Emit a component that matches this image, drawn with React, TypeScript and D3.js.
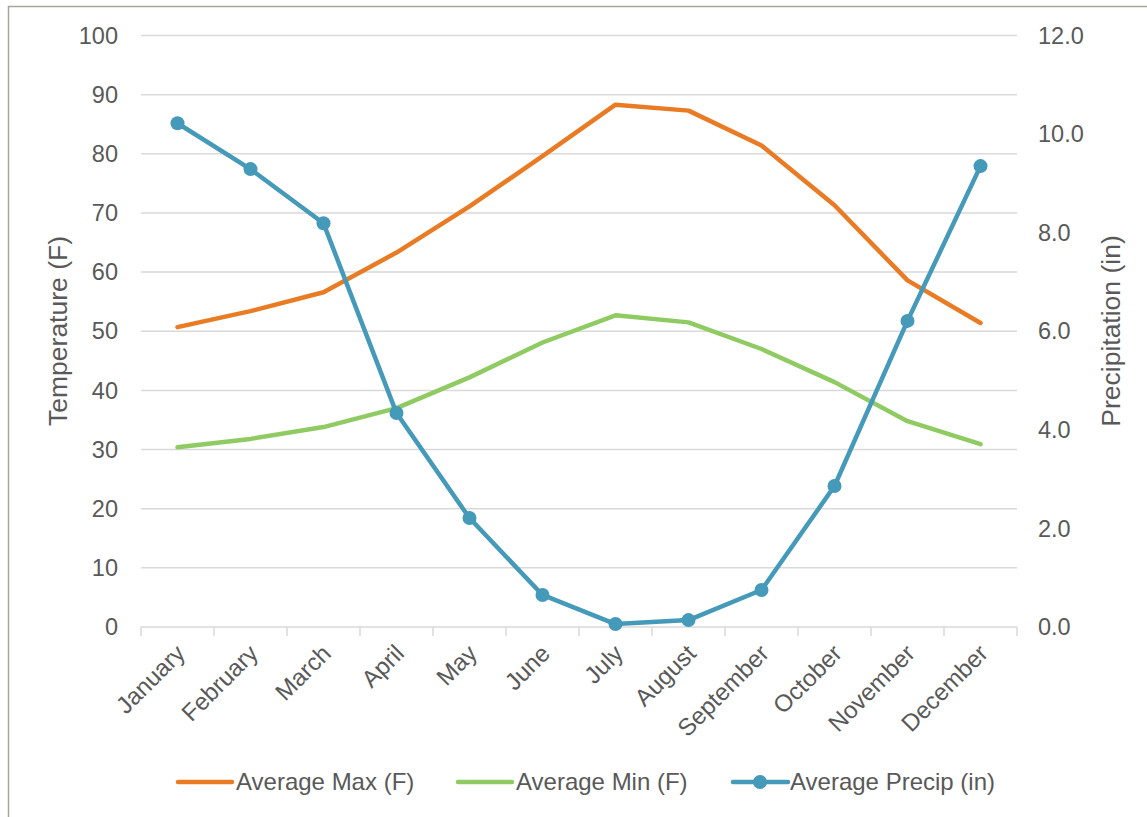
import React from "react";
import * as d3 from "d3";

const months = ["January","February","March","April","May","June","July","August","September","October","November","December"];
const avgMax = [50.7, 53.4, 56.6, 63.3, 71.1, 79.6, 88.3, 87.3, 81.4, 71.3, 58.6, 51.4];
const avgMin = [30.4, 31.8, 33.8, 37.0, 42.2, 48.1, 52.7, 51.5, 47.0, 41.4, 34.8, 30.9];
const avgPrecip = [10.22, 9.29, 8.19, 4.34, 2.21, 0.65, 0.06, 0.14, 0.75, 2.86, 6.21, 9.35];
const tempTicks = [0, 10, 20, 30, 40, 50, 60, 70, 80, 90, 100];
const precipTicks = [0, 2, 4, 6, 8, 10, 12];

const W = 1147, H = 817;
const left = 141, right = 1017, top = 35.5, bottom = 627;
const font = "'Liberation Sans', Arial, sans-serif";
const textColor = "#595959";
const cMax = "#E97B24", cMin = "#8FCB62", cPrecip = "#4599B9";

export default function App() {
  const x = d3.scaleBand<string>().domain(months).range([left, right]);
  const yT = d3.scaleLinear().domain([0, 100]).range([bottom, top]);
  const yP = d3.scaleLinear().domain([0, 12]).range([bottom, top]);
  const cx = (m: string) => (x(m) as number) + x.bandwidth() / 2;
  const lineT = d3.line<number>().x((_, i) => cx(months[i])).y((d) => yT(d));
  const lineP = d3.line<number>().x((_, i) => cx(months[i])).y((d) => yP(d));
  const boundaries = months.map((m) => x(m) as number).concat([right]);

  return (
    <svg width={W} height={H} style={{ position: "absolute", left: 0, top: 0, background: "#fff" }} fontFamily={font}>
      <rect x={0} y={0} width={W} height={H} fill="#fff" />
      <rect x={8.5} y={6.5} width={1150} height={830} fill="none" stroke="#A6A697" strokeWidth={1.5} />
      {tempTicks.map((t) => (
        <g key={t}>
          {t > 0 && <line x1={left} x2={right} y1={yT(t)} y2={yT(t)} stroke="#D9D9D9" strokeWidth={1.5} />}
          <text x={118} y={yT(t)} dy="0.35em" textAnchor="end" fontSize={23.5} fill={textColor}>{t}</text>
        </g>
      ))}
      <line x1={left} x2={right} y1={bottom} y2={bottom} stroke="#D9D9D9" strokeWidth={1.5} />
      {boundaries.map((b, i) => (
        <line key={i} x1={b} x2={b} y1={bottom} y2={bottom + 9} stroke="#D9D9D9" strokeWidth={1.5} />
      ))}
      {precipTicks.map((t) => (
        <text key={t} x={1038} y={yP(t)} dy="0.35em" textAnchor="start" fontSize={23.5} fill={textColor}>{t.toFixed(1)}</text>
      ))}
      {months.map((m) => (
        <text key={m} transform={`translate(${cx(m) + 3},${bottom + 22}) rotate(-45)`} textAnchor="end" fontSize={24} fill={textColor} dy="0.35em">{m}</text>
      ))}
      <text transform={`translate(58,${331}) rotate(-90)`} textAnchor="middle" dy="0.35em" fontSize={26.5} fill={textColor}>Temperature (F)</text>
      <text transform={`translate(1111,${331}) rotate(-90)`} textAnchor="middle" dy="0.35em" fontSize={26.5} fill={textColor}>Precipitation (in)</text>

      <path d={lineT(avgMax) || ""} fill="none" stroke={cMax} strokeWidth={4.5} strokeLinecap="round" strokeLinejoin="round" />
      <path d={lineT(avgMin) || ""} fill="none" stroke={cMin} strokeWidth={4.5} strokeLinecap="round" strokeLinejoin="round" />
      <path d={lineP(avgPrecip) || ""} fill="none" stroke={cPrecip} strokeWidth={4.5} strokeLinecap="round" strokeLinejoin="round" />
      {avgPrecip.map((v, i) => (
        <circle key={i} cx={cx(months[i])} cy={yP(v)} r={7} fill={cPrecip} />
      ))}

      <g fontSize={24} fill={textColor}>
        <line x1={178} x2={232} y1={782} y2={782} stroke={cMax} strokeWidth={4.5} strokeLinecap="round" />
        <text x={236} y={782} dy="0.35em">Average Max (F)</text>
        <line x1={458} x2={512} y1={782} y2={782} stroke={cMin} strokeWidth={4.5} strokeLinecap="round" />
        <text x={516} y={782} dy="0.35em">Average Min (F)</text>
        <line x1={733} x2={788} y1={782} y2={782} stroke={cPrecip} strokeWidth={4.5} strokeLinecap="round" />
        <circle cx={760} cy={782} r={7} fill={cPrecip} />
        <text x={790} y={782} dy="0.35em">Average Precip (in)</text>
      </g>
    </svg>
  );
}
